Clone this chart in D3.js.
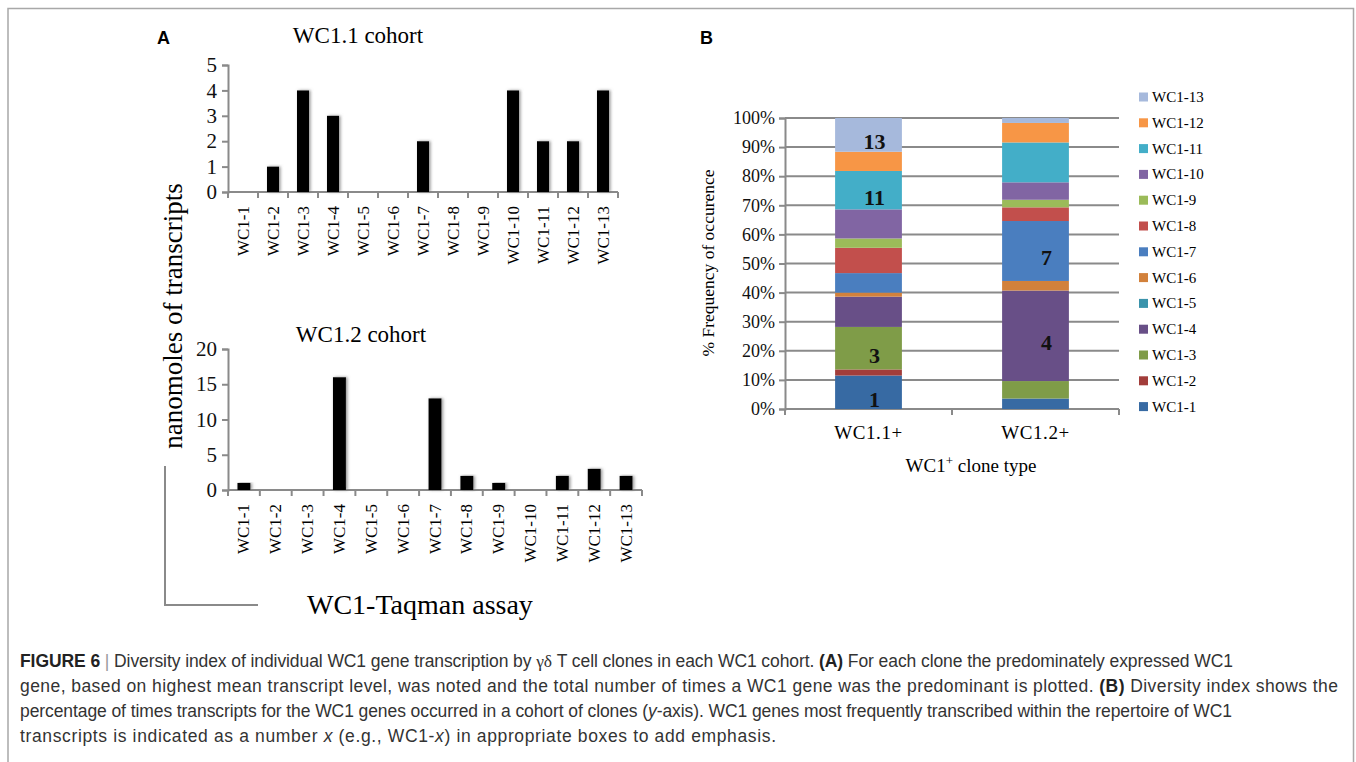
<!DOCTYPE html>
<html>
<head>
<meta charset="utf-8">
<script src="https://cdn.jsdelivr.net/npm/d3@7"></script>
<style>
  body { margin: 0; background: #fff; }
  svg { display: block; }
  .serif { font-family: "Liberation Serif", "Times New Roman", serif; }
  .cap { font-family: "Liberation Sans", Arial, sans-serif; fill: #333; }
</style>
</head>
<body>
<div id="fig"></div>
<script>
// categories
const genes = ["WC1-1", "WC1-2", "WC1-3", "WC1-4", "WC1-5", "WC1-6", "WC1-7",
               "WC1-8", "WC1-9", "WC1-10", "WC1-11", "WC1-12", "WC1-13"];
const cloneTypes = ["WC1.1+", "WC1.2+"];

// panel A: counts per gene
const wc11Counts = [0, 1, 4, 3, 0, 0, 2, 0, 0, 4, 2, 2, 4];
const wc12Counts = [1, 0, 0, 16, 0, 0, 13, 2, 1, 0, 2, 3, 2];
const topTicks = [0, 1, 2, 3, 4, 5];
const bottomTicks = [0, 5, 10, 15, 20];

// panel B: % frequency of occurence, per gene (WC1-1 .. WC1-13)
const wc11Pct = [11.5, 2.1, 14.6, 10.4, 0, 1.4, 6.7, 8.7, 3.2, 10.0, 13.2, 6.6, 11.6];
const wc12Pct = [3.6, 0, 6.0, 31.1, 0, 3.3, 20.6, 4.7, 2.6, 6.0, 13.7, 6.7, 1.7];
const pctTicks = [0, 10, 20, 30, 40, 50, 60, 70, 80, 90, 100];
const wc11Marked = ["WC1-1", "WC1-3", "WC1-11", "WC1-13"];
const wc12Marked = ["WC1-4", "WC1-7"];

const geneColors = ["#376aa3", "#a23d3a", "#7f9c48", "#684f87", "#3a93ab", "#d2813b",
                    "#4a7ebf", "#c24f4c", "#9bbb59", "#8165a3", "#43aec8", "#f79646", "#a6b9dc"];

const width = 1356, height = 762;
const axisGray = "#8a8a8a";

const svg = d3.select("#fig").append("svg")
    .attr("width", width)
    .attr("height", height);

// soft shadow under the black bars
svg.append("defs").append("filter")
    .attr("id", "shade")
    .attr("x", "-50%").attr("width", "200%")
    .append("feDropShadow")
    .attr("dx", 1.5).attr("dy", 0)
    .attr("stdDeviation", 1.6)
    .attr("flood-color", "#777")
    .attr("flood-opacity", 0.8);

// figure frame (open at the bottom)
svg.append("path")
    .attr("d", "M8,770 L8,8.5 L1353.5,8.5 L1353.5,770")
    .attr("fill", "none")
    .attr("stroke", "#a8a8a8")
    .attr("stroke-width", 1.5);

// panel letters
svg.append("text").attr("x", 157).attr("y", 44).text("A")
    .attr("font-family", "Liberation Sans, Arial, sans-serif")
    .attr("font-weight", "bold").attr("font-size", 18);
svg.append("text").attr("x", 700).attr("y", 44).text("B")
    .attr("font-family", "Liberation Sans, Arial, sans-serif")
    .attr("font-weight", "bold").attr("font-size", 18);

// ---------- Panel A ----------
function drawCohort(values, ticks, x0, x1, yBase, yTop, title, titleX, titleY, barW) {
    const x = d3.scaleBand().domain(genes).range([x0, x1])
        .paddingInner(0.6).paddingOuter(0.3);
    const y = d3.scaleLinear().domain([0, d3.max(ticks)]).range([yBase, yTop]);
    const g = svg.append("g").attr("class", "serif");

    g.append("text")
        .attr("x", titleX).attr("y", titleY)
        .attr("text-anchor", "middle")
        .attr("font-size", 23)
        .text(title);

    // y axis
    const yAxis = g.append("g")
        .attr("transform", `translate(${x0},0)`)
        .call(d3.axisLeft(y).tickValues(ticks).tickSize(6).tickPadding(5).tickFormat(d3.format("d")));
    yAxis.select(".domain").attr("stroke", axisGray).attr("stroke-width", 2);
    yAxis.selectAll(".tick line").attr("stroke", axisGray).attr("stroke-width", 2);
    yAxis.selectAll(".tick text")
        .attr("font-family", "Liberation Serif, serif")
        .attr("font-size", 21).attr("fill", "#111");

    // x axis with ticks between categories
    g.append("line")
        .attr("x1", x0).attr("x2", x1)
        .attr("y1", yBase).attr("y2", yBase)
        .attr("stroke", axisGray).attr("stroke-width", 2);
    g.selectAll("line.sep")
        .data(d3.range(genes.length + 1))
        .enter().append("line")
        .attr("class", "sep")
        .attr("x1", i => x0 + i * x.step()).attr("x2", i => x0 + i * x.step())
        .attr("y1", yBase).attr("y2", yBase + 6)
        .attr("stroke", axisGray).attr("stroke-width", 2);

    g.selectAll("rect.bar")
        .data(values)
        .enter().append("rect")
        .attr("class", "bar")
        .attr("x", (d, i) => x(genes[i]) + (x.bandwidth() - barW) / 2)
        .attr("y", d => y(d))
        .attr("width", barW)
        .attr("height", d => yBase - y(d))
        .attr("fill", "#050505")
        .attr("filter", "url(#shade)");

    g.selectAll("text.gene")
        .data(genes)
        .enter().append("text")
        .attr("class", "gene")
        .attr("transform", d => `translate(${x(d) + x.bandwidth() / 2},${yBase + 14}) rotate(-90)`)
        .attr("text-anchor", "end")
        .attr("dominant-baseline", "central")
        .attr("font-size", 17)
        .text(d => d);
}

drawCohort(wc11Counts, topTicks, 228, 618, 192, 65, "WC1.1 cohort", 358, 43, 12);
drawCohort(wc12Counts, bottomTicks, 228, 642, 490, 349, "WC1.2 cohort", 361, 342, 13);

// shared y title and bracket for panel A
svg.append("text")
    .attr("class", "serif")
    .attr("transform", "translate(182,316) rotate(-90)")
    .attr("text-anchor", "middle")
    .attr("font-size", 27)
    .text("nanomoles of transcripts");
svg.append("path")
    .attr("d", "M165,466 L165,605 L258,605")
    .attr("fill", "none").attr("stroke", axisGray).attr("stroke-width", 2);
svg.append("text")
    .attr("class", "serif")
    .attr("x", 307).attr("y", 614)
    .attr("font-size", 28)
    .text("WC1-Taqman assay");

// ---------- Panel B ----------
const bx0 = 785, bx1 = 1119, by0 = 409, by1 = 118;
const xB = d3.scaleBand().domain(cloneTypes).range([bx0, bx1])
    .paddingInner(0.6).paddingOuter(0.3);
const yB = d3.scaleLinear().domain([0, 100]).range([by0, by1]);
const gB = svg.append("g").attr("class", "serif");

// gridlines
gB.selectAll("line.grid")
    .data(pctTicks)
    .enter().append("line")
    .attr("class", "grid")
    .attr("x1", bx0).attr("x2", bx1)
    .attr("y1", d => yB(d)).attr("y2", d => yB(d))
    .attr("stroke", axisGray).attr("stroke-width", 2);

const yAxisB = gB.append("g")
    .attr("transform", `translate(${bx0},0)`)
    .call(d3.axisLeft(yB).tickValues(pctTicks).tickSize(6).tickPadding(4).tickFormat(d => d + "%"));
yAxisB.select(".domain").attr("stroke", axisGray).attr("stroke-width", 2);
yAxisB.selectAll(".tick line").attr("stroke", axisGray).attr("stroke-width", 2);
yAxisB.selectAll(".tick text")
    .attr("font-family", "Liberation Serif, serif")
    .attr("font-size", 18).attr("fill", "#111");

gB.selectAll("line.xtick")
    .data([0, 1, 2])
    .enter().append("line")
    .attr("class", "xtick")
    .attr("x1", i => bx0 + i * (bx1 - bx0) / 2).attr("x2", i => bx0 + i * (bx1 - bx0) / 2)
    .attr("y1", by0).attr("y2", by0 + 6)
    .attr("stroke", axisGray).attr("stroke-width", 2);

// stacked bars
const rows = cloneTypes.map((c, ci) => {
    const row = { clone: c };
    const vals = ci === 0 ? wc11Pct : wc12Pct;
    genes.forEach((gName, gi) => { row[gName] = vals[gi]; });
    return row;
});
const stacked = d3.stack().keys(genes)(rows);

const layer = gB.selectAll("g.layer")
    .data(stacked)
    .enter().append("g")
    .attr("class", "layer")
    .attr("fill", (d, i) => geneColors[i]);

layer.selectAll("rect")
    .data(d => d.map(s => ({ s: s, key: d.key })))
    .enter().append("rect")
    .attr("x", d => xB(d.s.data.clone))
    .attr("y", d => yB(d.s[1]))
    .attr("width", xB.bandwidth())
    .attr("height", d => yB(d.s[0]) - yB(d.s[1]));

// emphasis numbers
const marks = [];
stacked.forEach(layerData => {
    layerData.forEach(s => {
        const list = s.data.clone === "WC1.1+" ? wc11Marked : wc12Marked;
        if (list.includes(layerData.key)) marks.push({ s: s, key: layerData.key });
    });
});
gB.selectAll("text.mark")
    .data(marks)
    .enter().append("text")
    .attr("class", "mark")
    .attr("x", d => xB(d.s.data.clone) + xB.bandwidth() / 2 + (d.s.data.clone === "WC1.1+" ? 6 : 11))
    .attr("y", d => yB((d.s[0] + d.s[1]) / 2) + 7)
    .attr("text-anchor", "middle")
    .attr("dominant-baseline", "central")
    .attr("font-weight", "bold")
    .attr("font-size", 22)
    .attr("fill", "#111")
    .text(d => d.key.replace("WC1-", ""));

// category labels
gB.selectAll("text.clone")
    .data(cloneTypes)
    .enter().append("text")
    .attr("class", "clone")
    .attr("x", d => xB(d) + xB.bandwidth() / 2)
    .attr("y", 439)
    .attr("text-anchor", "middle")
    .attr("font-size", 19)
    .attr("letter-spacing", 0.6)
    .text(d => d);

const xt = gB.append("text")
    .attr("x", 971).attr("y", 472)
    .attr("text-anchor", "middle")
    .attr("font-size", 19);
xt.append("tspan").text("WC1");
xt.append("tspan").attr("dy", -7).attr("font-size", 13).text("+");
xt.append("tspan").attr("dy", 7).text(" clone type");

gB.append("text")
    .attr("transform", "translate(714,263) rotate(-90)")
    .attr("text-anchor", "middle")
    .attr("font-size", 17.5)
    .text("% Frequency  of occurence");

// legend, WC1-13 on top
const legendGenes = genes.slice().reverse();
const leg = gB.selectAll("g.leg")
    .data(legendGenes)
    .enter().append("g")
    .attr("class", "leg")
    .attr("transform", (d, i) => `translate(1139,${97 + i * 25.8})`);
leg.append("rect")
    .attr("x", 0).attr("y", -4.5)
    .attr("width", 9).attr("height", 9)
    .attr("fill", d => geneColors[genes.indexOf(d)]);
leg.append("text")
    .attr("x", 13).attr("y", 0)
    .attr("dominant-baseline", "central")
    .attr("font-size", 15)
    .text(d => d);

// ---------- caption ----------
const captionLines = [
    [["FIGURE 6", "b"], [" ", ""], ["|", "sep"], [" Diversity index of individual WC1 gene transcription by ", ""], ["γδ", "g"],
     [" T cell clones in each WC1 cohort. ", ""], ["(A)", "b"], [" For each clone the predominately expressed WC1", ""]],
    [["gene, based on highest mean transcript level, was noted and the total number of times a WC1 gene was the predominant is plotted. ", ""],
     ["(B)", "b"], [" Diversity index shows the", ""]],
    [["percentage of times transcripts for the WC1 genes occurred in a cohort of clones (", ""], ["y", "i"],
     ["-axis). WC1 genes most frequently transcribed within the repertoire of WC1", ""]],
    [["transcripts is indicated as a number ", ""], ["x", "i"], [" (e.g., WC1-", ""], ["x", "i"],
     [") in appropriate boxes to add emphasis.", ""]]
];
const captionWidths = [1213, 1318, 1212, 756];
captionLines.forEach((parts, li) => {
    const t = svg.append("text")
        .attr("class", "cap")
        .attr("x", 20)
        .attr("y", 667 + li * 25)
        .attr("font-size", 17.5)
        .attr("textLength", captionWidths[li])
        .attr("lengthAdjust", "spacing");
    parts.forEach(p => {
        const ts = t.append("tspan").text(p[0]);
        if (p[1] === "b") ts.attr("font-weight", "bold").attr("fill", "#222");
        if (p[1] === "i") ts.attr("font-style", "italic");
        if (p[1] === "sep") ts.attr("fill", "#999");
        if (p[1] === "g") ts.attr("font-family", "Liberation Serif, serif");
    });
});
</script>
</body>
</html>
